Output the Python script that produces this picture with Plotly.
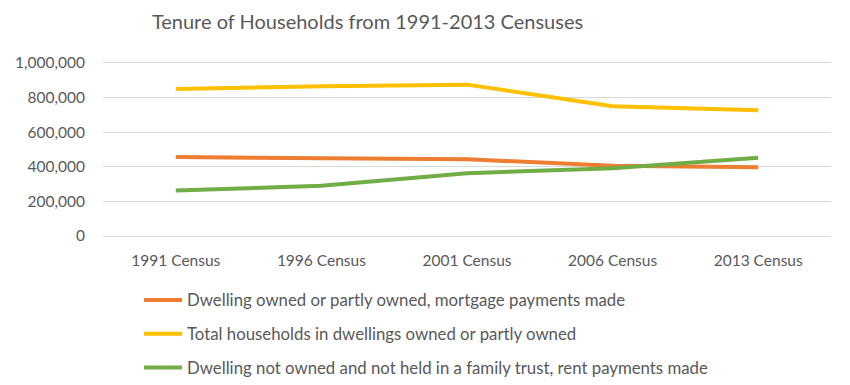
import plotly.graph_objects as go

categories = ["1991 Census", "1996 Census", "2001 Census", "2006 Census", "2013 Census"]
mortgage = [456000, 448000, 444000, 406000, 398000]
total_owned = [850000, 866000, 875000, 750000, 727000]
rent = [263000, 290000, 363000, 392000, 452000]

series_names = [
    "Dwelling owned or partly owned, mortgage payments made",
    "Total households in dwellings owned or partly owned",
    "Dwelling not owned and not held in a family trust, rent payments made",
]
colors = ["#ED7D31", "#FFC000", "#70AD47"]
y_ticks = [0, 200000, 400000, 600000, 800000, 1000000]

FONT = "Lato"
TXT = "#595959"
GRID = "#D9D9D9"
W, H = 842, 377  # page body has an 8px margin; keep figure inside 850x385 viewport

fig = go.Figure()
for i, (name, vals, col) in enumerate(zip(series_names, [mortgage, total_owned, rent], colors)):
    fig.add_trace(go.Scatter(
        x=categories, y=vals, name=name, mode="lines",
        line=dict(color=col, width=4), legendgroup=f"g{i}",
    ))

fig.update_layout(
    width=W, height=H,
    paper_bgcolor="white", plot_bgcolor="white",
    margin=dict(l=95, r=19, t=55, b=149, autoexpand=False),
    font=dict(family=FONT, color=TXT, size=15.5),
    title=dict(text="Tenure of Households from 1991-2013 Censuses",
               x=359.5 / W, xref="container", xanchor="center",
               y=1 - 14 / H, yref="container", yanchor="middle",
               font=dict(family=FONT, size=20, color=TXT)),
    showlegend=True,
    legend=dict(orientation="v", x=131 / W, xref="container", xanchor="left",
                y=1 - 274.5 / H, yref="container", yanchor="top",
                font=dict(family=FONT, size=16.8, color=TXT), tracegroupgap=9,
                itemwidth=38, bgcolor="rgba(0,0,0,0)"),
    xaxis=dict(showgrid=False, showline=True, mirror=True, linecolor=GRID, linewidth=1,
               ticks="", ticklabelstandoff=10, tickfont=dict(size=15.5, color=TXT),
               range=[-0.5, 4.5], fixedrange=True, automargin=False),
    yaxis=dict(range=[0, 1000000], tickvals=y_ticks, tickformat=",d",
               showgrid=True, gridcolor=GRID, gridwidth=1, zeroline=True,
               zerolinecolor=GRID, zerolinewidth=1, showline=False,
               ticks="", ticklabelstandoff=17, automargin=False,
               tickfont=dict(size=15.5, color=TXT)),
)

fig.write_html("out.html")
